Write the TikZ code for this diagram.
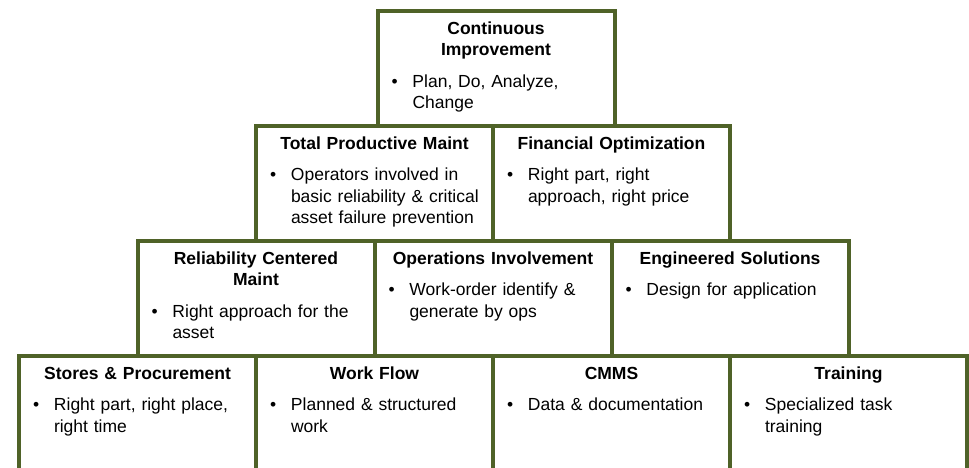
\documentclass[tikz,border=0pt]{standalone}
\usepackage{fontspec}
\setmainfont{Liberation Sans}
\usetikzlibrary{positioning}

\definecolor{olivebar}{RGB}{79,98,40}

% title and bullet inside a block
\newcommand{\ttl}[1]{{\centering\bfseries #1\par}\vspace{10pt}}
\newcommand{\bul}[1]{\noindent\makebox[23pt][l]{\hspace{2pt}\textbullet}\parbox[t]{190pt}{\raggedright #1}}

\begin{document}
\begin{tikzpicture}[
    x=1pt, y=-1pt,
    block/.style={draw=olivebar, line width=4pt, outer sep=0pt, inner xsep=12pt, inner ysep=10pt,
        text width=213pt, text height=13pt, text depth=82pt, align=left, anchor=north west,
        font=\fontsize{17.5}{21.5}\selectfont}
]
    \clip (0,0) rectangle (969,467);
    \fill[white] (0,0) rectangle (969,467);

    % base row
    \node[block] (stores) at (19,356) {\ttl{Stores \& Procurement}\bul{Right part, right place,\\right time}};
    \node[block, right=0pt of stores] (flow) {\ttl{Work Flow}\bul{Planned \& structured\\work}};
    \node[block, right=0pt of flow] (cmms) {\ttl{CMMS}\bul{Data \& documentation}};
    \node[block, right=0pt of cmms] (train) {\ttl{Training}\bul{Specialized task\\training}};

    \node[block, anchor=south west] (rcm) at (stores.north) {\ttl{Reliability Centered\\Maint}\bul{Right approach for the\\asset}};
    \node[block, right=0pt of rcm] (ops) {\ttl{Operations Involvement}\bul{Work-order identify \&\\generate by ops}};
    \node[block, right=0pt of ops] (eng) {\ttl{Engineered Solutions}\bul{Design for application}};

    \node[block, anchor=south west] (tpm) at (rcm.north) {\ttl{Total Productive Maint}\bul{Operators involved in\\basic reliability \& critical\\asset failure prevention}};
    \node[block, right=0pt of tpm] (fin) {\ttl{Financial Optimization}\bul{Right part, right\\approach, right price}};

    % top
    \node[block, anchor=south west, xshift=3pt] (ci) at (tpm.north) {\ttl{Continuous\\Improvement}\bul{Plan, Do, Analyze,\\Change}};
\end{tikzpicture}
\end{document}
